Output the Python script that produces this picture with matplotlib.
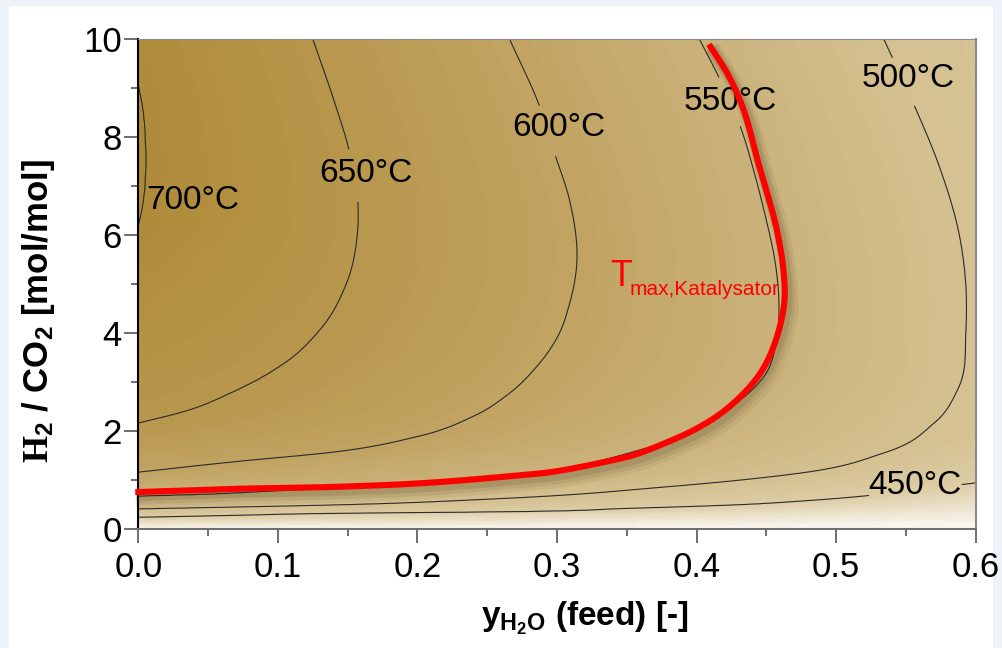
import numpy as np
import matplotlib.pyplot as plt
import matplotlib.patheffects as pe
from matplotlib.colors import LinearSegmentedColormap
from matplotlib.patches import Rectangle
from matplotlib.ticker import MultipleLocator

plt.rcParams['font.family'] = ['Liberation Sans', 'DejaVu Sans']
plt.rcParams['mathtext.fontset'] = 'custom'
plt.rcParams['mathtext.rm'] = 'Liberation Sans'
plt.rcParams['mathtext.it'] = 'Liberation Sans:italic'
plt.rcParams['mathtext.bf'] = 'Liberation Sans:bold'
plt.rcParams['mathtext.sf'] = 'Liberation Serif:bold'

# isotherms (x = y_H2O, y = H2/CO2), ordered by rising y
t700_x = [0.0, 0.003, 0.005, 0.005, 0.003, 0.0]
t700_y = [6.2, 6.6, 7.2, 7.9, 8.6, 9.05]
t650_x = [0.0, 0.032, 0.068, 0.105, 0.130, 0.149, 0.157, 0.157, 0.151, 0.140, 0.125]
t650_y = [2.16, 2.39, 2.8, 3.39, 4.06, 5.0, 6.04, 6.78, 7.73, 8.76, 10.0]
t600_x = [0.0, 0.068, 0.140, 0.199, 0.240, 0.265, 0.285, 0.300, 0.309, 0.314, 0.309, 0.298, 0.288, 0.266]
t600_y = [1.16, 1.37, 1.57, 1.88, 2.3, 2.75, 3.3, 3.9, 4.6, 5.35, 6.71, 7.69, 8.59, 10.0]
t550_x = [0.0, 0.039, 0.10, 0.18, 0.25, 0.31, 0.36, 0.402, 0.430, 0.448, 0.457, 0.459,
          0.456, 0.450, 0.442, 0.431, 0.418, 0.402]
t550_y = [0.67, 0.70, 0.78, 0.88, 1.0, 1.27, 1.62, 2.08, 2.6, 3.1, 3.8, 4.6,
          5.5, 6.3, 7.2, 8.24, 9.1, 10.0]
t500_x = [0.0, 0.14, 0.259, 0.378, 0.474, 0.534, 0.570, 0.587, 0.593, 0.588, 0.574, 0.555, 0.534]
t500_y = [0.41, 0.49, 0.62, 0.86, 1.14, 1.55, 2.16, 2.84, 4.06, 6.04, 7.39, 8.7, 10.0]
t450_x = [0.0, 0.07, 0.14, 0.259, 0.35, 0.426, 0.48, 0.526, 0.557, 0.6]
t450_y = [0.24, 0.28, 0.32, 0.35, 0.42, 0.49, 0.58, 0.69, 0.80, 0.94]

# temperature on the left (x=0) and right (x=0.6) edges
left_y = [0.0, 0.24, 0.41, 0.67, 1.16, 2.16, 6.2, 7.6, 9.05, 10.0]
left_T = [345, 450, 500, 550, 600, 650, 700, 706, 700, 695]
right_y = [0.0, 0.94, 2.0, 4.0, 10.0]
right_T = [345, 450, 493, 497, 488]

# T_max,Katalysator curve
red_x = [0.0, 0.068, 0.14, 0.20, 0.259, 0.295, 0.331, 0.355, 0.378, 0.398, 0.414, 0.431,
         0.447, 0.455, 0.459, 0.463, 0.462, 0.458, 0.445, 0.431, 0.422, 0.410]
red_y = [0.755, 0.82, 0.86, 0.93, 1.06, 1.16, 1.35, 1.51, 1.76, 2.02, 2.29, 2.69,
         3.24, 3.71, 4.06, 4.67, 5.35, 6.04, 7.39, 8.76, 9.3, 9.84]

# label positions
lab_lev = [650, 600, 550, 500]
lab_x = [0.163, 0.301, 0.424, 0.5515]
lab_y = [7.26, 8.19, 8.72, 9.19]


def hermite(t, v, tt):
    # smooth curve through the read points (cubic Hermite, 3-point slopes)
    t = np.asarray(t, float)
    v = np.asarray(v, float)
    d = np.diff(v) / np.diff(t)
    m = np.empty_like(v)
    m[0], m[-1] = d[0], d[-1]
    h = np.diff(t)
    m[1:-1] = (d[1:] * h[:-1] + d[:-1] * h[1:]) / (h[:-1] + h[1:])
    k = np.clip(np.searchsorted(t, tt) - 1, 0, len(t) - 2)
    s = (tt - t[k]) / h[k]
    h00 = 2 * s**3 - 3 * s**2 + 1
    h10 = s**3 - 2 * s**2 + s
    h01 = -2 * s**3 + 3 * s**2
    h11 = s**3 - s**2
    return h00 * v[k] + h10 * h[k] * m[k] + h01 * v[k + 1] + h11 * h[k] * m[k + 1]


iso = [(700, t700_x, t700_y), (650, t650_x, t650_y), (600, t600_x, t600_y),
       (550, t550_x, t550_y), (500, t500_x, t500_y), (450, t450_x, t450_y)]
dense = []
for lev, lx, ly in iso:
    yd = np.linspace(ly[0], ly[-1], 600)
    dense.append((lev, hermite(ly, lx, yd), yd))

xg = np.linspace(0, 0.6, 601)
yg = np.linspace(0, 10, 701)
T = np.zeros((len(yg), len(xg)))
for i, yy in enumerate(yg):
    kx = [0.0]
    kt = [np.interp(yy, left_y, left_T)]
    for lev, xd, yd in dense:
        if yd[0] <= yy <= yd[-1]:
            xx = np.interp(yy, yd, xd)
            if kx[-1] < xx < 0.6:
                kx.append(xx)
                kt.append(lev)
    kx.append(0.6)
    kt.append(np.interp(yy, right_y, right_T))
    T[i] = np.interp(xg, kx, kt)

# red curve, smoothed along its chord length
s = np.concatenate([[0], np.cumsum(np.hypot(np.diff(red_x) / 0.6 * 1.71, np.diff(red_y) / 10))])
ss = np.linspace(0, s[-1], 500)
rx = hermite(s, red_x, ss)
ry = hermite(s, red_y, ss)

vmin, vmax = 345, 710
cpts = [(345, '#fcfaf6'), (400, '#ece2cb'), (450, '#ddcda5'), (500, '#d4c090'),
        (550, '#cab27a'), (600, '#c1a463'), (650, '#b8974d'), (700, '#af8b3a'), (710, '#ab8633')]
cmap = LinearSegmentedColormap.from_list('brn', [((t - vmin) / (vmax - vmin), c) for t, c in cpts])

fig = plt.figure(figsize=(10.03, 6.48), dpi=100)
fig.patch.set_facecolor('#eef3fa')
fig.add_artist(Rectangle((9 / 1003, 0), 984 / 1003, 642 / 648, transform=fig.transFigure,
                         facecolor='white', edgecolor='none', zorder=-10))
ax = fig.add_axes([0.1379, 0.1836, 0.8349, 0.7562])

ax.contourf(xg, yg, T, levels=np.arange(vmin, vmax + 5, 5), cmap=cmap, vmin=vmin, vmax=vmax)
line_kw = dict(colors='#2b2b2b', linewidths=0.8)
cs_a = ax.contour(xg, yg, T, levels=sorted(lab_lev), **line_kw)
cs_b = ax.contour(xg, yg, T, levels=[450], **line_kw)
ax.contour(xg, yg, T, levels=[700], **line_kw)
ax.clabel(cs_a, manual=list(zip(lab_x, lab_y)), inline=True,
          inline_spacing=-20, fmt='%d°C', fontsize=24, colors='black')
ax.clabel(cs_b, manual=[(0.5565, 0.88)], inline=True,
          inline_spacing=0, fmt='%d°C', fontsize=24, colors='black')
for t, px, py in zip(cs_a.labelTexts + cs_b.labelTexts, lab_x + [0.5565], lab_y + [0.88]):
    t.set_rotation(0)
    t.set_position((px, py))
ax.text(0.0388, 6.71, '700°C', fontsize=24, ha='center', va='center')

shadow = [pe.SimpleLineShadow(offset=(4, -5.5), shadow_color='#2a1e08', alpha=0.05, linewidth=12),
          pe.SimpleLineShadow(offset=(3, -4.5), shadow_color='#2a1e08', alpha=0.07, linewidth=9),
          pe.SimpleLineShadow(offset=(2, -3), shadow_color='#2a1e08', alpha=0.10, linewidth=7),
          pe.Normal()]
ax.plot(rx, ry, color='#ff0000', lw=4.4, solid_capstyle='projecting',
        clip_on=False, zorder=5, path_effects=shadow)
ax.text(0.338, 4.96, 'T', color='#ff0000', fontsize=26, ha='left', va='baseline', zorder=6)
ax.annotate('max,Katalysator', xy=(0.338, 4.96), xytext=(14, -6.5), textcoords='offset points',
            color='#ff0000', fontsize=15, ha='left', va='baseline', zorder=6)

ax.set_xlim(0, 0.6)
ax.set_ylim(0, 10)
ax.xaxis.set_major_locator(MultipleLocator(0.1))
ax.xaxis.set_minor_locator(MultipleLocator(0.05))
ax.yaxis.set_major_locator(MultipleLocator(2))
ax.yaxis.set_minor_locator(MultipleLocator(1))
ax.set_xticks(np.arange(0, 0.61, 0.1), ['%.1f' % v for v in np.arange(0, 0.61, 0.1)])
ax.tick_params(which='both', direction='out', color='#555555', width=1.2, labelsize=25)
ax.tick_params(which='major', length=10)
ax.tick_params(which='minor', length=5)
ax.tick_params(axis='x', pad=6)
ax.tick_params(axis='y', pad=2)

ax.spines['left'].set_color('black')
ax.spines['left'].set_linewidth(1.5)
ax.spines['bottom'].set_color('#707070')
ax.spines['bottom'].set_linewidth(1.5)
ax.spines['right'].set_color('#8a8a8a')
ax.spines['right'].set_linewidth(1.5)
ax.spines['top'].set_color('#8a8a8a')
ax.spines['top'].set_linewidth(0.8)

ax.set_xlabel(r'y$_{\mathbf{H_2O}}$ (feed) [-]', fontsize=24, fontweight='bold')
ax.set_ylabel(r'$\mathsf{H}_\mathbf{2}$ / CO$_\mathbf{2}$ [mol/mol]', fontsize=25, fontweight='bold')
ax.xaxis.set_label_coords(0.533, -0.145)
ax.yaxis.set_label_coords(-0.097, 0.445)

fig.savefig('out.png', dpi=100, facecolor=fig.get_facecolor())
